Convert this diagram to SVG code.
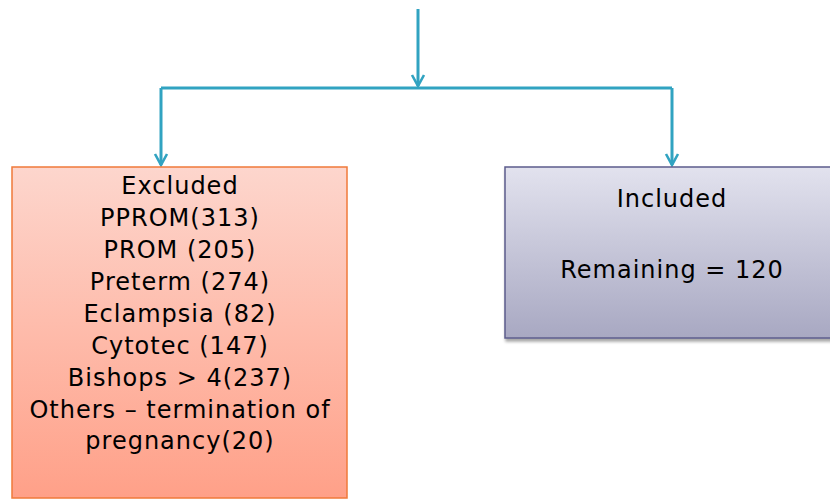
<svg xmlns="http://www.w3.org/2000/svg" width="830" height="500" viewBox="0 0 830 500">
<style>
.c{fill:none;stroke:#31a3c1;stroke-width:3}
.t{font-family:"DejaVu Sans",sans-serif;font-size:24px;letter-spacing:1px;fill:#000;text-anchor:middle}
</style>
<defs>
<linearGradient id="gl" x1="0" y1="0" x2="0" y2="1"><stop offset="0" stop-color="#fdd6cd"/><stop offset="1" stop-color="#ffa088"/></linearGradient>
<linearGradient id="gr" x1="0" y1="0" x2="0" y2="1"><stop offset="0" stop-color="#e2e2ee"/><stop offset="1" stop-color="#a8a8c2"/></linearGradient>
<marker id="a" viewBox="0 0 16 16" refX="14" refY="8" markerWidth="16" markerHeight="16" markerUnits="userSpaceOnUse" orient="auto"><path d="M3,2 L14,8 L3,14" fill="none" stroke="#31a3c1" stroke-width="2.6"/></marker>
<filter id="sh" x="-5%" y="-5%" width="115%" height="115%"><feDropShadow dx="1" dy="3" stdDeviation="1.5" flood-color="#000" flood-opacity="0.35"/></filter>
</defs>
<g id="connectors">
<path class="c" d="M418,9 V86" marker-end="url(#a)"/>
<path class="c" d="M418,88 H672 M418,88 H161"/>
<path class="c" d="M161,88 V165" marker-end="url(#a)"/>
<path class="c" d="M672,88 V165" marker-end="url(#a)"/>
</g>
<g id="excluded">
<rect x="12" y="167" width="335" height="331" fill="url(#gl)" stroke="#f07a3a" stroke-width="1.5"/>
<text class="t" x="180" y="194">Excluded</text>
<text class="t" x="180" y="226">PPROM(313)</text>
<text class="t" x="180" y="258">PROM (205)</text>
<text class="t" x="180" y="290">Preterm (274)</text>
<text class="t" x="180" y="322">Eclampsia (82)</text>
<text class="t" x="180" y="354">Cytotec (147)</text>
<text class="t" x="180" y="386">Bishops &gt; 4(237)</text>
<text class="t" x="180" y="418">Others – termination of</text>
<text class="t" x="180" y="449">pregnancy(20)</text>
</g>
<g id="included">
<rect x="505" y="167" width="340" height="171" fill="url(#gr)" stroke="#5c5c8c" stroke-width="1.5" filter="url(#sh)"/>
<text class="t" x="672" y="207">Included</text>
<text class="t" x="672" y="278">Remaining = 120</text>
</g>
</svg>
